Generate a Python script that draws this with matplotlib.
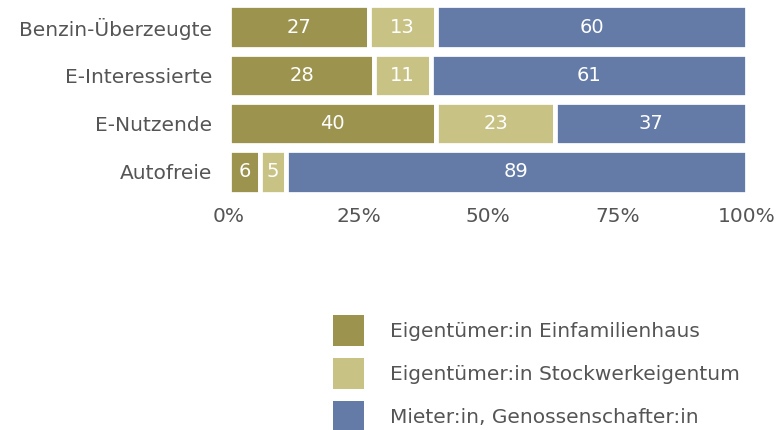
import numpy as np
import matplotlib
matplotlib.use("Agg")
import matplotlib.pyplot as plt
from matplotlib.patches import Patch

plt.rcParams["font.family"] = ["DejaVu Sans"]

# data
categories = ["Benzin-Überzeugte", "E-Interessierte", "E-Nutzende", "Autofreie"]
series_names = ["Eigentümer:in Einfamilienhaus",
                "Eigentümer:in Stockwerkeigentum",
                "Mieter:in, Genossenschafter:in"]
einfamilienhaus = [27, 28, 40, 6]
stockwerk = [13, 11, 23, 5]
mieter = [60, 61, 37, 89]
tick_vals = [0, 25, 50, 75, 100]
tick_labels = ["0%", "25%", "50%", "75%", "100%"]

colors = ["#9c944e", "#c8c285", "#647ba8"]
text_col = "#555555"
fs = 14.5

fig = plt.figure(figsize=(7.79, 4.30), dpi=100)
ax = fig.add_axes([229 / 779, 1 - 196 / 430, 518 / 779, 193 / 430])

y = np.arange(len(categories))
left = np.zeros(len(categories))
for vals, col in zip([einfamilienhaus, stockwerk, mieter], colors):
    vals = np.array(vals, dtype=float)
    ax.barh(y, vals, left=left, height=0.9, color=col,
            edgecolor="white", linewidth=3.4)
    for yi, l, v in zip(y, left, vals):
        ax.text(l + v / 2, yi, f"{int(v)}", ha="center", va="center",
                color="white", fontsize=14)
    left += vals

ax.set_xlim(0, 100)
ax.set_ylim(len(categories) - 0.5, -0.5)
ax.set_yticks(y)
ax.set_yticklabels(categories)
ax.set_xticks(tick_vals)
ax.set_xticklabels(tick_labels)
ax.tick_params(length=0, labelsize=fs, labelcolor=text_col)
ax.tick_params(axis="y", pad=12)
ax.tick_params(axis="x", pad=8)
for s in ax.spines.values():
    s.set_visible(False)

# legend
handles = [Patch(facecolor=c, edgecolor="none") for c in colors]
fig.legend(handles, series_names, loc="upper left",
           bbox_to_anchor=(333 / 779, 1 - 315 / 430), frameon=False,
           fontsize=fs, labelcolor=text_col, handlelength=1.55,
           handleheight=2.0, handletextpad=1.3, labelspacing=0.58,
           borderaxespad=0, borderpad=0)

fig.savefig("out.png", dpi=100)
